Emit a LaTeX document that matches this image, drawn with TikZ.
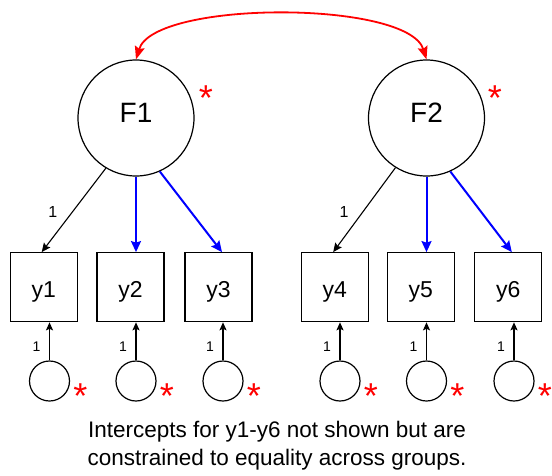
\documentclass[tikz,border=0pt]{standalone}
\usepackage{fontspec}
\setmainfont{Liberation Sans}
\usetikzlibrary{arrows.meta}

\begin{document}
\begin{tikzpicture}[x=1pt,y=-1pt,
  latent/.style={circle,draw,line width=1.2pt,minimum size=116pt,inner sep=0pt,
    font=\fontsize{28}{30}\selectfont,text height=20pt,text depth=11pt},
  manifest/.style={rectangle,draw,line width=1.2pt,minimum width=67pt,minimum height=69pt,
    inner sep=0pt,font=\fontsize{23}{25}\selectfont,text height=21pt,text depth=0pt},
  errc/.style={circle,draw,line width=1.2pt,minimum size=40pt,inner sep=0pt},
  ast/.style={text=red,font=\fontsize{36}{36}\selectfont,inner sep=0pt,anchor=base},
  one/.style={font=\fontsize{16}{16}\selectfont,inner sep=0pt},
  eone/.style={font=\fontsize{14}{14}\selectfont,inner sep=0pt},
  fixedload/.style={line width=1.1pt,-{Stealth[length=9pt,width=8pt,inset=1.5pt]}},
  freeload/.style={line width=2pt,blue,-{Stealth[length=11pt,width=10pt,inset=1.5pt]}},
  errpath/.style={line width=1.2pt,-{Stealth[length=8pt,width=7pt,inset=1.5pt]}},
  covar/.style={line width=1.8pt,red,{Stealth[length=13pt,width=10pt,inset=2pt]}-{Stealth[length=13pt,width=10pt,inset=2pt]}}
]
\useasboundingbox (0,0) rectangle (552,475);

% latent factors
\node[latent] (F1) at (136,118) {F1};
\node[latent] (F2) at (426.5,118) {F2};
\node[ast] (sF1) at (206,110) {*};
\node[ast] (sF2) at (495,110) {*};

% factor covariance
\draw[covar] (F1.north) .. controls (154,0) and (408,0) .. (F2.north);

% indicators
\foreach \n/\x in {1/43.7,2/130.4,3/218.5,4/334.7,5/420.8,6/508.3}
  \node[manifest] (y\n) at (\x,287.2) {y\n};

% residuals
\foreach \n/\x in {1/49.5,2/136,3/223,4/340,5/426.5,6/514}{
  \node[errc] (e\n) at (\x,381) {};
  \draw[errpath] (e\n.north) -- (e\n.north |- y\n.south);
  \node[eone] (l\n) at (\x-13,347) {1};
  \node[ast] (se\n) at (\x+31,408) {*};
}

% loadings of F1
\draw[fixedload] (F1.-121) -- ([xshift=-2pt]y1.north);
\node[one] (k1) at (52.7,211.7) {1};
\draw[freeload] (F1.south) -- (F1.south |- y2.north);
\draw[freeload] (F1.-66) -- ([xshift=3.5pt]y3.north);

% loadings of F2
\draw[fixedload] (F2.-122) -- ([xshift=-1.5pt]y4.north);
\node[one] (k4) at (344,211.7) {1};
\draw[freeload] (F2.south) -- (F2.south |- y5.north);
\draw[freeload] (F2.-66) -- ([xshift=3.5pt]y6.north);

% note
\node[font=\fontsize{22.5}{27.7}\selectfont,align=center,anchor=base] (note) at (277,465)
  {Intercepts for y1-y6 not shown but are\\constrained to equality across groups.};
\end{tikzpicture}
\end{document}
